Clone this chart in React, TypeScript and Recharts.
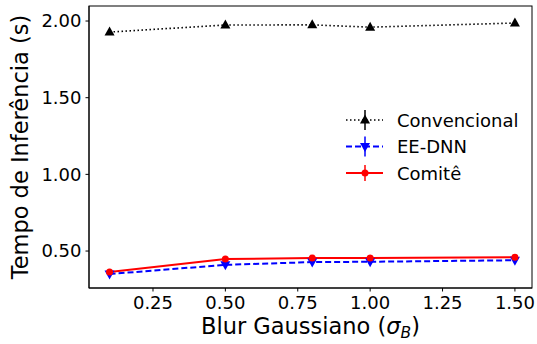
import { LineChart, Line, XAxis, YAxis } from 'recharts';

const sigma = [0.1, 0.5, 0.8, 1.0, 1.5];
const convencional = [1.928, 1.974, 1.975, 1.96, 1.987];
const eeDnn = [0.35, 0.41, 0.428, 0.43, 0.44];
const comite = [0.363, 0.448, 0.454, 0.455, 0.46];

const xTicks = [0.25, 0.5, 0.75, 1.0, 1.25, 1.5];
const yTicks = [0.5, 1.0, 1.5, 2.0];

const seriesNames = ['Convencional', 'EE-DNN', 'Comitê'];

const data = sigma.map((s, i) => ({
  sigma: s,
  conv: convencional[i],
  ee: eeDnn[i],
  com: comite[i],
}));

const FONT = 'DejaVu Sans, sans-serif';

function TriUp({ cx, cy, fill }: any) {
  if (cx == null || cy == null) return null;
  return <path d={`M${cx},${cy - 5.5} L${cx + 5},${cy + 3.5} L${cx - 5},${cy + 3.5} Z`} fill={fill} />;
}

function TriDown({ cx, cy, fill }: any) {
  if (cx == null || cy == null) return null;
  return <path d={`M${cx},${cy + 5.5} L${cx + 5},${cy - 3.5} L${cx - 5},${cy - 3.5} Z`} fill={fill} />;
}

function Dot({ cx, cy, fill }: any) {
  if (cx == null || cy == null) return null;
  return <circle cx={cx} cy={cy} r={3.5} fill={fill} />;
}

const styles = [
  { color: '#000000', dash: '1.5 2.5', width: 1.6, marker: TriUp, bar: 10 },
  { color: '#0000ff', dash: '6 3', width: 2, marker: TriDown, bar: 10 },
  { color: '#ff0000', dash: undefined, width: 2, marker: Dot, bar: 8 },
];

function Legend() {
  return (
    <svg width={537} height={344} style={{ position: 'absolute', left: 0, top: 0, pointerEvents: 'none' }}>
      {seriesNames.map((name, i) => {
        const st = styles[i];
        const y = 120 + i * 26.5;
        const M = st.marker;
        return (
          <g key={name}>
            <line x1={346} x2={383} y1={y} y2={y} stroke={st.color} strokeWidth={st.width} strokeDasharray={st.dash} />
            <line x1={365} x2={365} y1={y - st.bar} y2={y + st.bar} stroke={st.color} strokeWidth={1.5} />
            <M cx={365} cy={y} fill={st.color} />
            <text x={397} y={y} dominantBaseline="central" fontSize={18} fontFamily={FONT} fill="#000">
              {name}
            </text>
          </g>
        );
      })}
    </svg>
  );
}

export default function App() {
  return (
    <div style={{ position: 'relative', width: 537, height: 344, background: '#fff' }}>
      <style>{`body{margin:0}`}</style>
      <LineChart width={537} height={344} data={data} margin={{ top: 6, right: 5, bottom: 0, left: 0 }}>
        <XAxis
          dataKey="sigma"
          type="number"
          domain={[0.029, 1.559]}
          ticks={xTicks}
          allowDataOverflow
          height={56}
          tickSize={3.5}
          tickMargin={5}
          stroke="#000"
          tick={{ fontSize: 18, fill: '#000', fontFamily: FONT }}
          tickFormatter={(v) => v.toFixed(2)}
        />
        <YAxis
          type="number"
          domain={[0.259, 2.098]}
          ticks={yTicks}
          allowDataOverflow
          width={89}
          tickSize={3.5}
          tickMargin={4}
          stroke="#000"
          tick={{ fontSize: 18, fill: '#000', fontFamily: FONT }}
          tickFormatter={(v) => v.toFixed(2)}
        />
        <rect x={89} y={6} width={443} height={282} fill="none" stroke="#000" strokeWidth={1} />
        <Line dataKey="conv" stroke="#000" strokeWidth={1.6} strokeDasharray="1.5 2.5" dot={<TriUp fill="#000" />} isAnimationActive={false} />
        <Line dataKey="ee" stroke="#0000ff" strokeWidth={2} strokeDasharray="6 3" dot={<TriDown fill="#0000ff" />} isAnimationActive={false} />
        <Line dataKey="com" stroke="#ff0000" strokeWidth={2} dot={<Dot fill="#ff0000" />} isAnimationActive={false} />
        <text x={28} y={147} transform="rotate(-90 28 147)" textAnchor="middle" fontSize={22.5} fontFamily={FONT} fill="#000">
          Tempo de Inferência (s)
        </text>
        <text x={310.5} y={334} textAnchor="middle" fontSize={22.5} fontFamily={FONT} fill="#000">
          Blur Gaussiano (<tspan fontStyle="italic">σ</tspan>
          <tspan fontSize={15.5} fontStyle="italic" dy={4}>B</tspan>
          <tspan dy={-4}>)</tspan>
        </text>
      </LineChart>
      <Legend />
    </div>
  );
}
